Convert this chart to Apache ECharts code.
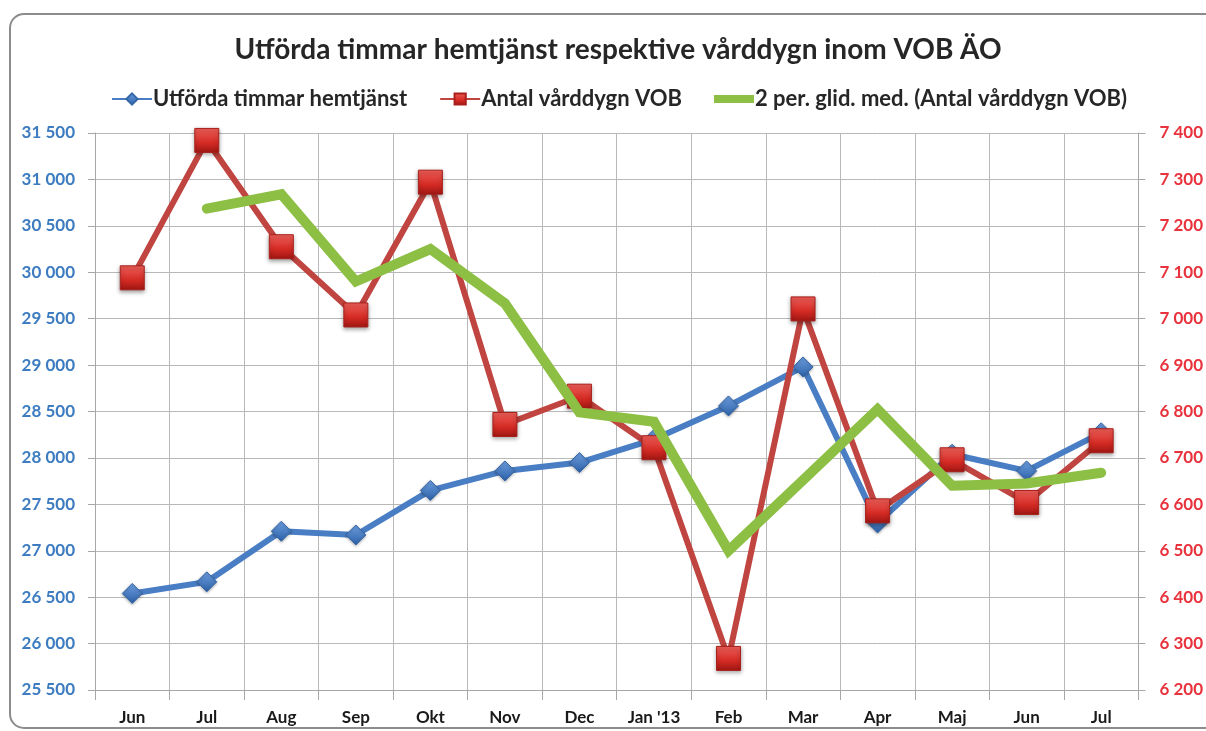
<!DOCTYPE html>
<html>
<head>
<meta charset="utf-8">
<script src="https://cdn.jsdelivr.net/npm/echarts@6/dist/echarts.min.js"></script>
<style>
  html, body { margin: 0; padding: 0; background: #ffffff; }
  #chart { width: 1206px; height: 731px; }
</style>
</head>
<body>
<div id="chart"></div>
<script>
// Monthly categories (Jun 2012 – Jul 2013)
const months = ['Jun', 'Jul', 'Aug', 'Sep', 'Okt', 'Nov', 'Dec', "Jan '13", 'Feb', 'Mar', 'Apr', 'Maj', 'Jun', 'Jul'];

// Utförda timmar hemtjänst (left axis)
const hoursHomeCare = [26540, 26665, 27210, 27170, 27650, 27860, 27950, 28200, 28560, 28980, 27300, 28040, 27860, 28270];

// Antal vårddygn VOB (right axis)
const careDaysVOB = [7088, 7384, 7155, 7008, 7294, 6772, 6833, 6722, 6268, 7021, 6586, 6696, 6604, 6737];

// 2 per. glid. med. (Antal vårddygn VOB) (right axis)
const movingAvgVOB = [null, 7237, 7268, 7080, 7150, 7033, 6798, 6778, 6500, 6652, 6805, 6640, 6645, 6668];

// Axis scales
const leftAxis = { min: 25500, max: 31500, step: 500 };
const rightAxis = { min: 6200, max: 7400, step: 100 };

const seriesNames = [
  'Utförda timmar hemtjänst',
  'Antal vårddygn VOB',
  '2 per. glid. med. (Antal vårddygn VOB)'
];

const FONT = 'Lato, "Open Sans", sans-serif';

function spaced(v) {
  return String(v).replace(/\B(?=(\d{3})+(?!\d))/g, ' ');
}

const chart = echarts.init(document.getElementById('chart'), null, { renderer: 'canvas' });

const blueGrad = new echarts.graphic.LinearGradient(0, 0, 0, 1, [
  { offset: 0, color: '#6e9fe0' },
  { offset: 1, color: '#2b5fa6' }
]);
const redGrad = new echarts.graphic.LinearGradient(0, 0, 0, 1, [
  { offset: 0, color: '#f0605a' },
  { offset: 0.6, color: '#d42a24' },
  { offset: 1, color: '#9e1612' }
]);

chart.setOption({
  backgroundColor: '#ffffff',
  animation: false,
  graphic: [{
    type: 'rect',
    shape: { x: 10, y: 14, width: 1230, height: 714, r: 14 },
    style: { fill: 'none', stroke: '#8c8c8c', lineWidth: 2 },
    z: 100
  }],
  title: {
    text: 'Utförda timmar hemtjänst respektive vårddygn inom VOB ÄO',
    left: 613,
    textAlign: 'center',
    top: 31,
    textStyle: { fontFamily: FONT, fontWeight: 'bold', fontSize: 28, color: '#262626' }
  },
  legend: {
    left: 106,
    top: 83,
    itemWidth: 40,
    itemHeight: 14,
    itemGap: 32,
    symbolKeepAspect: true,
    data: [
      { name: seriesNames[0] },
      { name: seriesNames[1] },
      { name: seriesNames[2], icon: 'path://M0,0 H40 V8 H0 Z' }
    ],
    textStyle: { fontFamily: FONT, fontWeight: 'bold', fontSize: 22, color: '#262626', padding: [0, 0, 0, -4] }
  },
  grid: { left: 95, right: 66, top: 133, bottom: 41, containLabel: false },
  xAxis: {
    type: 'category',
    data: months,
    boundaryGap: true,
    axisLine: { lineStyle: { color: '#a6a6a6', width: 1 } },
    axisTick: { show: true, length: 10, lineStyle: { color: '#a6a6a6' } },
    axisLabel: { margin: 19, fontFamily: FONT, fontWeight: 'bold', fontSize: 17, color: '#1a1a1a' },
    splitLine: { show: true, lineStyle: { color: '#b8b8b8', width: 1 } }
  },
  yAxis: [{
    type: 'value',
    position: 'left',
    min: leftAxis.min,
    max: leftAxis.max,
    interval: leftAxis.step,
    axisLine: { show: true, lineStyle: { color: '#a6a6a6' } },
    axisTick: { show: true, length: 7, lineStyle: { color: '#a6a6a6' } },
    axisLabel: { margin: 20, fontFamily: FONT, fontWeight: 'bold', fontSize: 17, color: '#3d7cc0', formatter: spaced },
    splitLine: { show: true, lineStyle: { color: '#b8b8b8', width: 1 } }
  }, {
    type: 'value',
    position: 'right',
    min: rightAxis.min,
    max: rightAxis.max,
    interval: rightAxis.step,
    axisLine: { show: true, lineStyle: { color: '#a6a6a6' } },
    axisTick: { show: true, length: 7, lineStyle: { color: '#a6a6a6' } },
    axisLabel: { margin: 21, fontFamily: FONT, fontWeight: 'bold', fontSize: 17, color: '#e8323c', formatter: spaced },
    splitLine: { show: false }
  }],
  series: [{
    name: seriesNames[0],
    type: 'line',
    yAxisIndex: 0,
    data: hoursHomeCare,
    symbol: 'diamond',
    symbolSize: [20, 20],
    showAllSymbol: true,
    lineStyle: { color: '#4a7ec4', width: 6 },
    itemStyle: { color: blueGrad, borderColor: '#3567a8', borderWidth: 1, shadowBlur: 3, shadowColor: 'rgba(0,0,0,0.3)', shadowOffsetY: 1 },
    z: 3
  }, {
    name: seriesNames[1],
    type: 'line',
    yAxisIndex: 1,
    data: careDaysVOB,
    symbol: 'rect',
    symbolSize: [24, 24],
    showAllSymbol: true,
    lineStyle: { color: '#c0443f', width: 6 },
    itemStyle: { color: redGrad, borderColor: '#a8201c', borderWidth: 1, shadowBlur: 4, shadowColor: 'rgba(0,0,0,0.35)', shadowOffsetY: 2 },
    z: 4
  }, {
    name: seriesNames[2],
    type: 'line',
    yAxisIndex: 1,
    data: movingAvgVOB,
    symbol: 'none',
    connectNulls: false,
    lineStyle: { color: '#8dbf45', width: 10, cap: 'round', join: 'miter' },
    itemStyle: { color: '#8dbf45' },
    z: 5
  }]
});
</script>
</body>
</html>
